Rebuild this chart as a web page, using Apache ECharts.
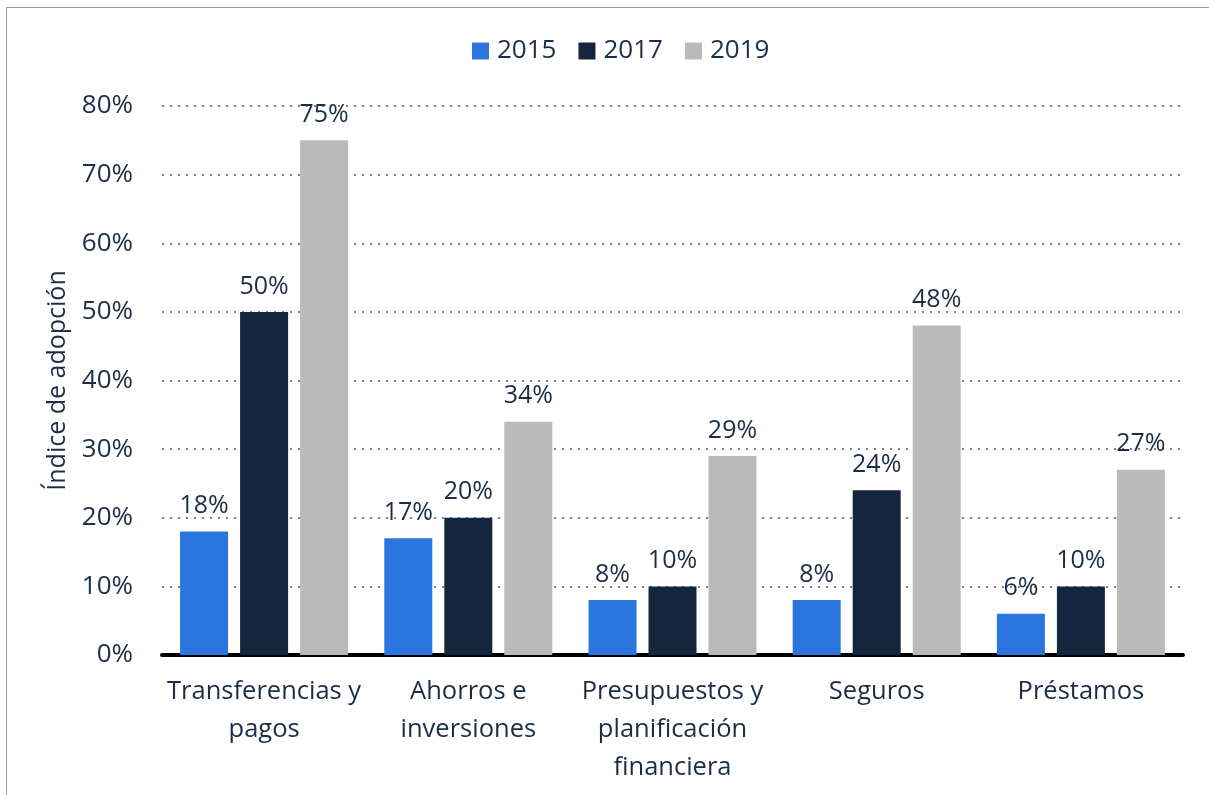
<!DOCTYPE html>
<html>
<head>
<meta charset="utf-8">
<script src="https://cdn.jsdelivr.net/npm/echarts@6/dist/echarts.min.js"></script>
<style>
  html, body { margin: 0; padding: 0; background: #fff; }
  #frame { position: absolute; left: 6px; top: 7px; width: 1210px; height: 800px; border: 1.5px solid #9a9a9a; box-sizing: border-box; }
  #main { position: absolute; left: 0; top: 0; width: 1209px; height: 795px; }
</style>
</head>
<body>
<div id="frame"></div>
<div id="main"></div>
<script>
// datos
const categorias = ['Transferencias y\npagos', 'Ahorros e\ninversiones', 'Presupuestos y\nplanificación\nfinanciera', 'Seguros', 'Préstamos'];
const anios = ['2015', '2017', '2019'];
const v2015 = [18, 17, 8, 8, 6];
const v2017 = [50, 20, 10, 24, 10];
const v2019 = [75, 34, 29, 48, 27];
const colores = ['#2a76de', '#13263d', '#bababa'];

const texto = '#1b2d47';
const fuente = '"Open Sans", "Noto Sans", sans-serif';

const myChart = echarts.init(document.getElementById('main'));

function serie(nombre, datos, color) {
  return {
    name: nombre,
    type: 'bar',
    data: datos,
    barWidth: 48,
    barGap: '25%',
    itemStyle: { color: color },
    label: {
      show: true,
      position: 'top',
      distance: 13,
      formatter: '{c}%',
      color: texto,
      fontSize: 25,
      fontFamily: fuente
    }
  };
}

myChart.setOption({
  animation: false,
  textStyle: { fontFamily: fuente },
  legend: {
    top: 33,
    left: 467,
    itemWidth: 17,
    itemHeight: 17,
    itemGap: 22,
    icon: 'rect',
    textStyle: { color: texto, fontSize: 26, fontFamily: fuente, padding: [0, 0, 0, 3] },
    data: anios
  },
  grid: { left: 162, right: 26, top: 106, bottom: 140, containLabel: false },
  xAxis: {
    type: 'category',
    data: categorias,
    axisLine: { show: true, lineStyle: { color: '#000', width: 4 } },
    axisTick: { show: false },
    axisLabel: {
      color: texto,
      fontSize: 25.5,
      fontFamily: fuente,
      lineHeight: 38,
      margin: 18,
      interval: 0
    }
  },
  yAxis: {
    type: 'value',
    min: 0,
    max: 80,
    interval: 10,
    name: 'Índice de adopción',
    nameLocation: 'middle',
    nameGap: 88,
    nameRotate: 90,
    nameTextStyle: { color: texto, fontSize: 25, fontFamily: fuente },
    axisLine: { show: false },
    axisTick: { show: false },
    axisLabel: {
      formatter: '{value}%',
      color: texto,
      fontSize: 26,
      fontFamily: fuente,
      margin: 29
    },
    splitLine: {
      show: true,
      lineStyle: { color: '#555', type: [2, 6], width: 1.5 }
    }
  },
  series: [
    serie(anios[0], v2015, colores[0]),
    serie(anios[1], v2017, colores[1]),
    serie(anios[2], v2019, colores[2])
  ]
});
</script>
</body>
</html>
